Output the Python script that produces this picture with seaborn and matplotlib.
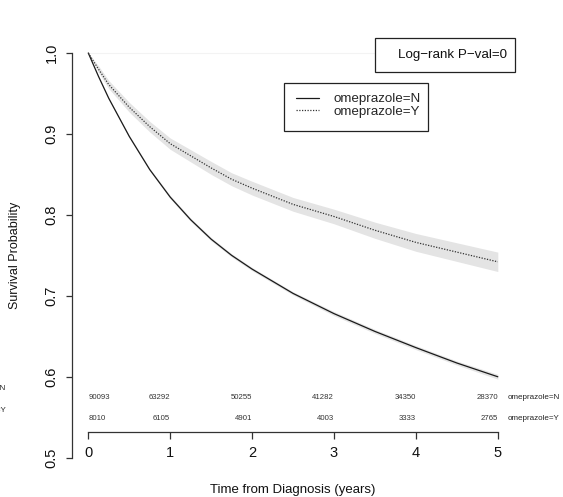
import numpy as np
import pandas as pd
import matplotlib
matplotlib.use("Agg")
import matplotlib.pyplot as plt
from matplotlib.patches import Rectangle
from matplotlib.lines import Line2D
import seaborn as sns

# ---- data ----
times = [0, 0.125, 0.25, 0.5, 0.75, 1, 1.25, 1.5, 1.75, 2, 2.5, 3, 3.5, 4, 4.5, 5]
surv_N = [1.0, 0.971, 0.944, 0.897, 0.856, 0.822, 0.794, 0.770, 0.750, 0.733,
          0.703, 0.678, 0.656, 0.636, 0.617, 0.600]
surv_Y = [1.0, 0.980, 0.961, 0.933, 0.909, 0.888, 0.873, 0.858, 0.844, 0.833,
          0.813, 0.798, 0.781, 0.766, 0.754, 0.742]
ci_N = [0.0, 0.001, 0.001, 0.0015, 0.0015, 0.002, 0.002, 0.002, 0.002, 0.002,
        0.002, 0.0025, 0.0025, 0.0025, 0.0025, 0.003]
ci_Y = [0.0, 0.004, 0.005, 0.006, 0.0065, 0.007, 0.0075, 0.008, 0.008, 0.0085,
        0.0085, 0.009, 0.010, 0.011, 0.0115, 0.012]
risk_times = [0, 1, 2, 3, 4, 5]
risk_N = [90093, 63292, 50255, 41282, 34350, 28370]
risk_Y = [8010, 6105, 4901, 4003, 3333, 2765]
group_labels = ["omeprazole=N", "omeprazole=Y"]
xticks = [0, 1, 2, 3, 4, 5]
yticks = [0.5, 0.6, 0.7, 0.8, 0.9, 1.0]

sns.set_style("ticks")
plt.rcParams["font.family"] = ["Liberation Sans", "DejaVu Sans"]

W, H = 563, 497
fig = plt.figure(figsize=(W / 100, H / 100), dpi=100)
ax = fig.add_axes([71.9 / W, 1 - 473.9 / H, (514.2 - 71.9) / W, (473.9 - 36.8) / H])
ax.set_xlim(-0.2, 5.2)
ax.set_ylim(0.48, 1.02)

df = pd.DataFrame({
    "time": times * 2,
    "surv": surv_N + surv_Y,
    "group": [group_labels[0]] * len(times) + [group_labels[1]] * len(times),
})

# faint reference line at 1.0
ax.axhline(1.0, xmin=0.2 / 5.4, xmax=1, color="#f3f3f3", lw=0.8, zorder=0)

# confidence bands
t = np.array(times)
ax.fill_between(t, np.array(surv_N) - np.array(ci_N), np.array(surv_N) + np.array(ci_N),
                color="#e4e4e4", lw=0, zorder=1)
ax.fill_between(t, np.array(surv_Y) - np.array(ci_Y), np.array(surv_Y) + np.array(ci_Y),
                color="#e4e4e4", lw=0, zorder=1)

sns.lineplot(data=df, x="time", y="surv", hue="group", style="group",
             palette={group_labels[0]: "#1a1a1a", group_labels[1]: "#333333"},
             dashes={group_labels[0]: "", group_labels[1]: (1, 1.2)},
             ax=ax, legend=False, zorder=3, estimator=None, sort=True)
for ln in ax.lines[1:]:
    ln.set_linewidth(0.9)

# axes styling (R-like)
for s in ["top", "right"]:
    ax.spines[s].set_visible(False)
ax.spines["left"].set_bounds(0.5, 1.0)
ax.spines["bottom"].set_position(("data", 0.532))
ax.spines["bottom"].set_bounds(0, 5)
for s in ["left", "bottom"]:
    ax.spines[s].set_color("#333333")
    ax.spines[s].set_linewidth(0.9)
ax.set_xticks(xticks)
ax.set_yticks(yticks)
ax.set_xticklabels([str(v) for v in xticks], fontsize=10.5)
ax.set_yticklabels([f"{v:.1f}" for v in yticks], fontsize=10.5, rotation=90, va="center")
ax.tick_params(axis="x", length=5, width=0.9, color="#333333", pad=5, labelcolor="#111111")
ax.tick_params(axis="y", length=4.5, width=0.9, color="#333333", pad=5, labelcolor="#111111")
ax.set_xlabel("")
ax.set_ylabel("")

fig.text(293 / W, 1 - 490 / H, "Time from Diagnosis (years)", ha="center", va="center",
         fontsize=9.5, color="#111111")
fig.text(15 / W, 1 - 255 / H, "Survival Probability", ha="center", va="center",
         rotation=90, fontsize=9, color="#111111")

# numbers at risk
yN, yY = 0.574, 0.549
for i, (tt, n, y) in enumerate(zip(risk_times, risk_N, risk_Y)):
    ha = "left" if i == 0 else "right"
    ax.text(tt, yN, str(n), ha=ha, va="center", fontsize=5.6, color="#333333")
    ax.text(tt, yY, str(y), ha=ha, va="center", fontsize=5.6, color="#333333")
ax.text(5.125, yN, group_labels[0], ha="left", va="center", fontsize=5.8, color="#222222", clip_on=False)
ax.text(5.125, yY, group_labels[1], ha="left", va="center", fontsize=5.8, color="#222222", clip_on=False)
# risk-table row labels, cut off at the left edge as in the reference
fig.text(6 / W, 1 - 389 / H, group_labels[0], ha="right", va="center", fontsize=5.8, color="#222222")
fig.text(6 / W, 1 - 411 / H, group_labels[1], ha="right", va="center", fontsize=5.8, color="#222222")

# log-rank box
fig.patches.append(Rectangle((375 / W, 1 - 72 / H), 140 / W, 34 / H, transform=fig.transFigure,
                             fc="white", ec="#222222", lw=0.9, zorder=5))
fig.text(453 / W, 1 - 55 / H, "Log\u2212rank P\u2212val=0", ha="center", va="center",
         fontsize=9.6, color="#111111", zorder=6)

# legend box
fig.patches.append(Rectangle((284 / W, 1 - 131 / H), 144 / W, 48 / H, transform=fig.transFigure,
                             fc="white", ec="#222222", lw=0.9, zorder=5))
handles = [Line2D([], [], color="#1a1a1a", lw=0.9),
           Line2D([], [], color="#333333", lw=0.9, dashes=(1, 1.2))]
leg = fig.legend(handles, group_labels, loc="upper left",
                 bbox_to_anchor=(296 / W, 1 - 93 / H), bbox_transform=fig.transFigure,
                 frameon=False, fontsize=9.6, handlelength=1.75, handletextpad=1.05,
                 borderpad=0, borderaxespad=0, labelspacing=0.0)
leg.set_zorder(7)

fig.savefig("out.png", dpi=100)
